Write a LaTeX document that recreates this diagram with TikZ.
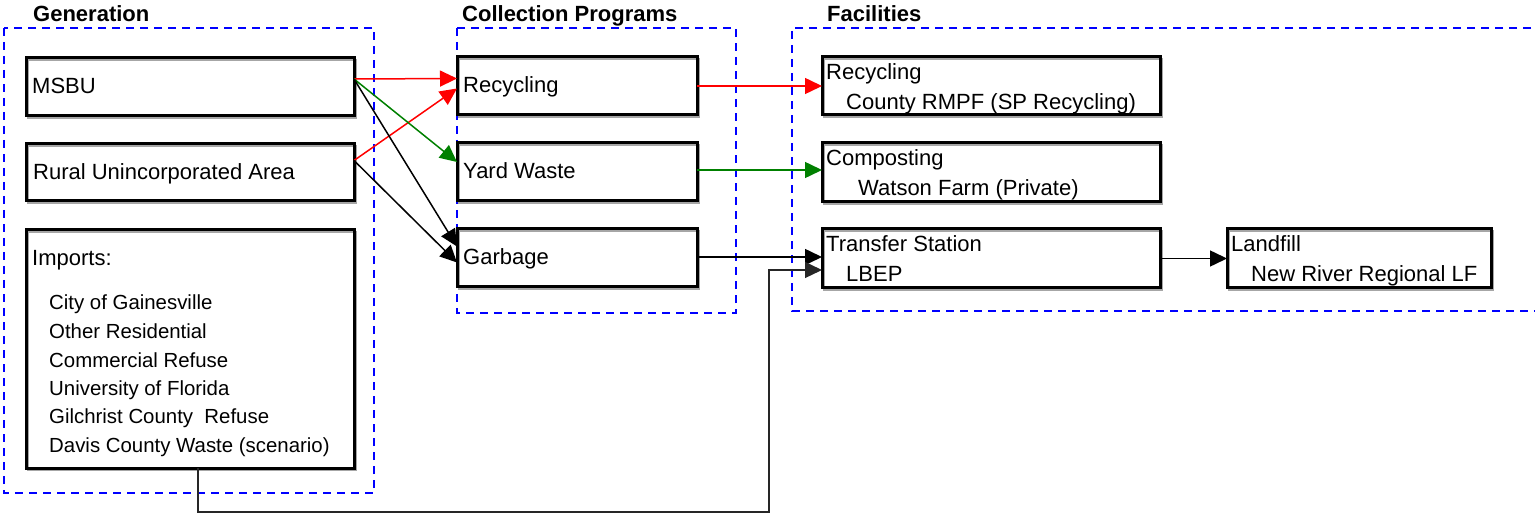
\documentclass[tikz,border=0pt]{standalone}
\usepackage{fontspec}
\setmainfont{Liberation Sans}
\usetikzlibrary{arrows.meta,calc}
\begin{document}
\begin{tikzpicture}[x=1pt,y=-1pt,
  txt/.style={anchor=base west,inner sep=0pt,font=\fontsize{22}{26}\selectfont},
  sml/.style={anchor=base west,inner sep=0pt,font=\fontsize{20.4}{24}\selectfont},
  ttl/.style={anchor=base west,inner sep=0pt,font=\fontsize{22}{26}\selectfont\bfseries},
  bx/.style={draw=black,line width=3pt,rectangle,inner sep=0pt,outer sep=0pt,anchor=north west,
    preaction={draw=black!35,line width=1.5pt,transform canvas={shift={(1.8pt,-1.8pt)}}}},
  grp/.style={draw=blue,line width=2pt,dash pattern=on 8pt off 6pt},
  arr/.style={line width=1.5pt,-{Triangle[length=17pt,width=16pt]}},
]
\useasboundingbox (0,0) rectangle (1535,513);
% group frames
\draw[grp] (4,28) rectangle (374,493);
\draw[grp] (457,28) rectangle (736,313);
\draw[grp] (1545,28) -- (792,28) -- (792,311) -- (1545,311);
\node[ttl] (tgen) at (33,22) {Generation};
\node[ttl] (tcol) at (462,22) {Collection Programs};
\node[ttl] (tfac) at (827,22) {Facilities};
% generation boxes
\node[bx,minimum width=328pt,minimum height=58pt] (msbu) at (26,58) {};
\node[bx,minimum width=328pt,minimum height=57pt] (rural) at (26,144) {};
\node[bx,minimum width=328pt,minimum height=238pt] (imports) at (26,230) {};
\node[txt] (lmsbu) at (32,94) {MSBU};
\node[txt] (lrural) at (33,180) {Rural Unincorporated Area};
\node[txt] (limp) at (32,266) {Imports:};
\node[sml] (li1) at (49,309) {City of Gainesville};
\node[sml] (li2) at (49,338) {Other Residential};
\node[sml] (li3) at (49,367) {Commercial Refuse};
\node[sml] (li4) at (49,395) {University of Florida};
\node[sml] (li5) at (49,423) {Gilchrist County\ \ Refuse};
\node[sml] (li6) at (49,452) {Davis County Waste (scenario)};
% collection boxes
\node[bx,minimum width=240pt,minimum height=58pt] (crec) at (457,57) {};
\node[bx,minimum width=240pt,minimum height=58pt] (cyard) at (457,143) {};
\node[bx,minimum width=240pt,minimum height=58pt] (cgarb) at (457,229) {};
\node[txt] (lcrec) at (463,93) {Recycling};
\node[txt] (lcyard) at (463,179) {Yard Waste};
\node[txt] (lcgarb) at (463,265) {Garbage};
% facility boxes
\node[bx,minimum width=338pt,minimum height=58pt] (frec) at (822,57) {};
\node[bx,minimum width=338pt,minimum height=59pt] (fcomp) at (822,143) {};
\node[bx,minimum width=338pt,minimum height=59pt] (ftrans) at (822,229) {};
\node[bx,minimum width=264pt,minimum height=59pt] (fland) at (1227,229) {};
\node[txt] (lfrec1) at (826,80) {Recycling};
\node[txt] (lfrec2) at (846,110) {County RMPF (SP Recycling)};
\node[txt] (lfcomp1) at (826,166) {Composting};
\node[txt] (lfcomp2) at (858,196) {Watson Farm (Private)};
\node[txt] (lftrans1) at (826,252) {Transfer Station};
\node[txt] (lftrans2) at (846,282) {LBEP};
\node[txt] (lfland1) at (1231,252) {Landfill};
\node[txt] (lfland2) at (1251,282) {New River Regional LF};
% generation -> collection
\draw[arr,red] ($(msbu.east)+(0,-8)$) -- ($(crec.west)+(0,-7.5)$);
\draw[arr,red] ($(rural.east)+(0,-12)$) -- ($(crec.west)+(0,2.5)$);
\draw[arr,green!50!black] ($(msbu.east)+(0,-8)$) -- ($(cyard.west)+(0,-10)$);
\draw[arr,black] ($(msbu.east)+(0,-8)$) -- ($(cgarb.west)+(0,-11.5)$);
\draw[arr,black] ($(rural.east)+(0,-12)$) -- ($(cgarb.west)+(0,4.5)$);
% collection -> facilities
\draw[arr,red] (crec.east) -- (frec.west |- crec.east);
\draw[arr,green!50!black] ($(cyard.east)+(0,-2)$) -- ($(fcomp.west |- cyard.east)+(0,-2)$);
\draw[arr,black] ($(cgarb.east)+(0,-1)$) -- ($(ftrans.west |- cgarb.east)+(0,-1)$);
\draw[arr,black] (ftrans.east) -- (fland.west);
% imports connector
\coordinate (c1) at (198,512);
\coordinate (c2) at (769,512);
\draw[line width=1.3pt,black!85,-{Triangle[length=17pt,width=16pt]}] (imports.south -| c1) -- (c1) -- (c2) |- ($(ftrans.west)+(0,11.5)$);
\end{tikzpicture}
\end{document}
